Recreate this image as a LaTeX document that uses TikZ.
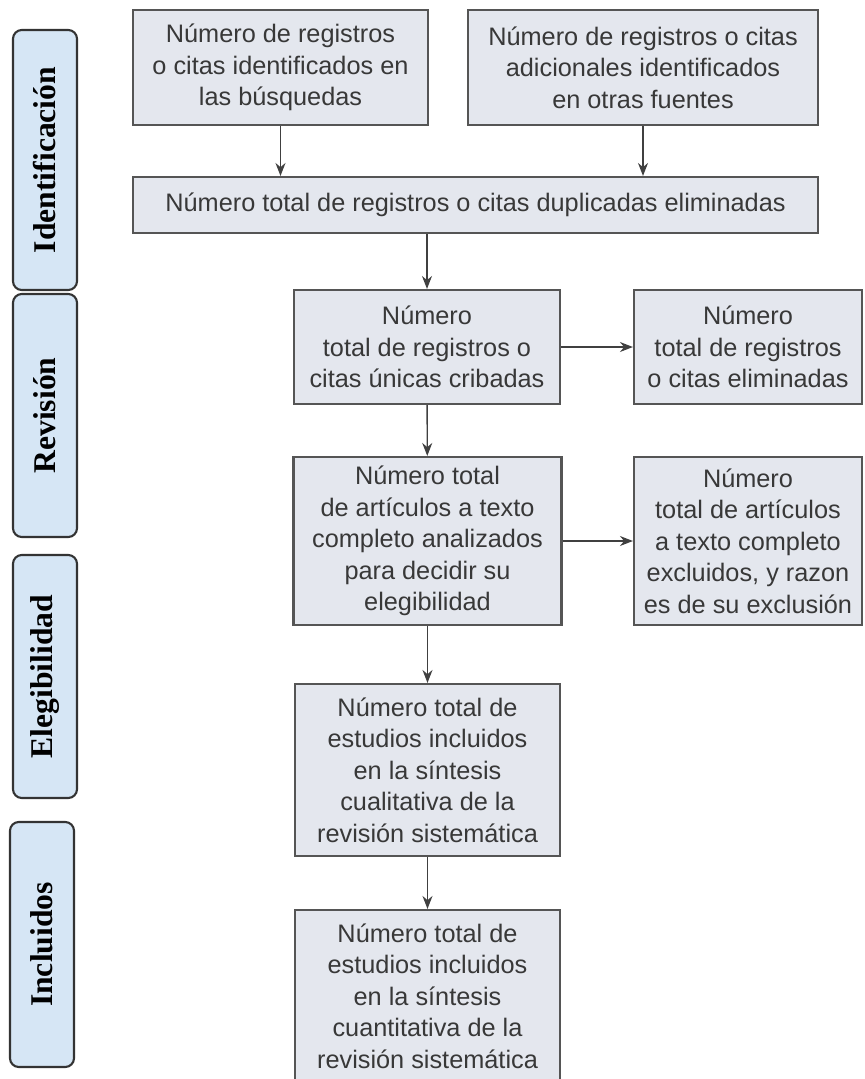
\documentclass[tikz,border=0pt]{standalone}
\usepackage{fontspec}
\setmainfont{Liberation Sans}
\newfontfamily\faseFont{Liberation Serif}
\usetikzlibrary{arrows.meta}
\definecolor{cajaFondo}{HTML}{E4E7EE}
\definecolor{cajaBorde}{HTML}{555555}
\definecolor{faseFondo}{HTML}{D6E6F5}
\definecolor{textoGris}{HTML}{383838}
\begin{document}
\begin{tikzpicture}[
  caja/.style={draw=cajaBorde,line width=1.2pt,fill=cajaFondo,align=center,inner sep=2pt,
    text=textoGris,font=\fontsize{14.4}{17.9}\selectfont},
  fase/.style={draw=black!80,line width=1.2pt,fill=faseFondo,rounded corners=5pt,
    minimum height=1.28cm,rotate=90,font=\faseFont\bfseries\fontsize{18}{20}\selectfont},
  flecha/.style={-{Stealth[length=2.6mm,width=2mm]},line width=0.8pt,black!75}]
\useasboundingbox (0,0) rectangle (17.28,-21.58);
% fases
\node[fase,minimum width=5.2cm] (idlab) at (0.9,-3.2) {Identificación};
\node[fase,minimum width=4.86cm] (revlab) at (0.9,-8.31) {Revisión};
\node[fase,minimum width=4.86cm] (eleglab) at (0.9,-13.53) {Elegibilidad};
\node[fase,minimum width=4.9cm] (inclab) at (0.84,-18.89) {Incluidos};
% cajas
\node[caja,minimum width=5.9cm,minimum height=2.3cm] (busq) at (5.61,-1.35) {Número de registros\\o citas identificados en\\las búsquedas};
\node[caja,minimum width=7.0cm,minimum height=2.3cm] (otras) at (12.86,-1.35) {Número de registros o citas\\adicionales identificados\\en otras fuentes};
\node[caja,minimum width=13.7cm,minimum height=1.12cm] (duplic) at (9.51,-4.1) {Número total de registros o citas duplicadas eliminadas};
\node[caja,minimum width=5.32cm,minimum height=2.28cm] (cribadas) at (8.54,-6.94) {Número\\total de registros o\\citas únicas cribadas};
\node[caja,minimum width=4.56cm,minimum height=2.28cm] (elimin) at (14.96,-6.94) {Número\\total de registros\\o citas eliminadas};
\node[caja,minimum width=5.36cm,minimum height=3.36cm] (texto) at (8.55,-10.82) {Número total\\de artículos a texto\\completo analizados\\para decidir su\\elegibilidad};
\node[caja,minimum width=4.56cm,minimum height=3.36cm] (excluidos) at (14.96,-10.82) {Número\\total de artículos\\a texto completo\\excluidos, y razon\\es de su exclusión};
\node[caja,minimum width=5.3cm,minimum height=3.44cm] (cualit) at (8.55,-15.4) {Número total de\\estudios incluidos\\en la síntesis\\cualitativa de la\\revisión sistemática};
\node[caja,minimum width=5.3cm,minimum height=3.44cm] (cuantit) at (8.55,-19.92) {Número total de\\estudios incluidos\\en la síntesis\\cuantitativa de la\\revisión sistemática};
% flechas
\draw[flecha] (busq.south) -- (busq.south |- duplic.north);
\draw[flecha] (otras.south) -- (otras.south |- duplic.north);
\draw[flecha] (duplic.south -| cribadas.north) -- (cribadas.north);
\draw[flecha] (cribadas) -- (elimin);
\draw[flecha] (cribadas) -- (texto);
\draw[flecha] (texto) -- (excluidos);
\draw[flecha] (texto) -- (cualit);
\draw[flecha] (cualit) -- (cuantit);
\end{tikzpicture}
\end{document}
